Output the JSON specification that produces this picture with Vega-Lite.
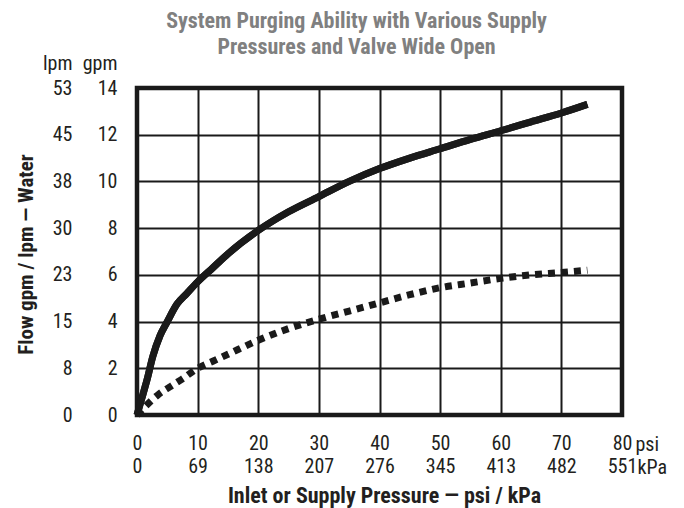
{
  "$schema": "https://vega.github.io/schema/vega-lite/v6.json",
  "autosize": "none",
  "width": 485,
  "height": 327,
  "padding": {"left": 137, "top": 88, "right": 62, "bottom": 93},
  "config": {
    "font": "Liberation Sans Narrow, Roboto Condensed, Liberation Sans, sans-serif",
    "view": {"stroke": "#1a1a1a", "strokeWidth": 4.5},
    "axis": {
      "labelFontSize": 20,
      "labelColor": "#231f20",
      "titleColor": "#231f20",
      "titleFontSize": 20,
      "gridColor": "#1a1a1a",
      "gridWidth": 2,
      "gridOpacity": 1,
      "domain": false,
      "ticks": false
    }
  },
  "title": {
    "text": ["System Purging Ability with Various Supply", "Pressures and Valve Wide Open"],
    "color": "#808080",
    "fontSize": 22,
    "fontWeight": "bold",
    "lineHeight": 26,
    "anchor": "middle",
    "dx": -23,
    "dy": 10,
    "offset": 4
  },
  "data": {
    "values": [
      {"psi": 0, "gpm": 0, "curve": "solid"},
      {"psi": 1, "gpm": 0.9, "curve": "solid"},
      {"psi": 1.65, "gpm": 1.5, "curve": "solid"},
      {"psi": 2.6, "gpm": 2.5, "curve": "solid"},
      {"psi": 3.8, "gpm": 3.4, "curve": "solid"},
      {"psi": 5, "gpm": 4.0, "curve": "solid"},
      {"psi": 6.6, "gpm": 4.75, "curve": "solid"},
      {"psi": 8.2, "gpm": 5.2, "curve": "solid"},
      {"psi": 10, "gpm": 5.7, "curve": "solid"},
      {"psi": 12.5, "gpm": 6.3, "curve": "solid"},
      {"psi": 15, "gpm": 6.9, "curve": "solid"},
      {"psi": 20, "gpm": 7.9, "curve": "solid"},
      {"psi": 25, "gpm": 8.7, "curve": "solid"},
      {"psi": 30, "gpm": 9.35, "curve": "solid"},
      {"psi": 35, "gpm": 10.0, "curve": "solid"},
      {"psi": 40, "gpm": 10.55, "curve": "solid"},
      {"psi": 45, "gpm": 11.0, "curve": "solid"},
      {"psi": 50, "gpm": 11.4, "curve": "solid"},
      {"psi": 55, "gpm": 11.8, "curve": "solid"},
      {"psi": 60, "gpm": 12.17, "curve": "solid"},
      {"psi": 65, "gpm": 12.55, "curve": "solid"},
      {"psi": 70, "gpm": 12.93, "curve": "solid"},
      {"psi": 74.3, "gpm": 13.3, "curve": "solid"},
      {"psi": 0, "gpm": 0, "curve": "dotted"},
      {"psi": 1.3, "gpm": 0.35, "curve": "dotted"},
      {"psi": 3.4, "gpm": 0.85, "curve": "dotted"},
      {"psi": 5.7, "gpm": 1.25, "curve": "dotted"},
      {"psi": 7.5, "gpm": 1.55, "curve": "dotted"},
      {"psi": 10, "gpm": 2.0, "curve": "dotted"},
      {"psi": 12.5, "gpm": 2.3, "curve": "dotted"},
      {"psi": 15, "gpm": 2.6, "curve": "dotted"},
      {"psi": 20, "gpm": 3.2, "curve": "dotted"},
      {"psi": 25, "gpm": 3.7, "curve": "dotted"},
      {"psi": 30, "gpm": 4.1, "curve": "dotted"},
      {"psi": 35, "gpm": 4.45, "curve": "dotted"},
      {"psi": 40, "gpm": 4.8, "curve": "dotted"},
      {"psi": 45, "gpm": 5.15, "curve": "dotted"},
      {"psi": 50, "gpm": 5.45, "curve": "dotted"},
      {"psi": 55, "gpm": 5.65, "curve": "dotted"},
      {"psi": 60, "gpm": 5.85, "curve": "dotted"},
      {"psi": 65, "gpm": 6.0, "curve": "dotted"},
      {"psi": 70, "gpm": 6.1, "curve": "dotted"},
      {"psi": 74.3, "gpm": 6.2, "curve": "dotted"}
    ]
  },
  "resolve": {"axis": {"x": "independent", "y": "independent"}},
  "layer": [
    {
      "transform": [{"filter": "datum.curve == 'solid'"}],
      "mark": {"type": "line", "color": "#1a1a1a", "strokeWidth": 7, "interpolate": "monotone"},
      "encoding": {
        "x": {
          "field": "psi", "type": "quantitative",
          "scale": {"domain": [0, 80], "nice": false},
          "axis": {
            "orient": "bottom", "labels": false, "grid": false,
            "title": "Inlet or Supply Pressure — psi / kPa",
            "titleFontWeight": "bold", "titleFontSize": 22,
            "titleX": 247, "titleY": 87, "titleAlign": "center", "titleBaseline": "alphabetic", "titleAngle": 0
          }
        },
        "y": {
          "field": "gpm", "type": "quantitative",
          "scale": {"domain": [0, 14], "nice": false},
          "axis": {
            "orient": "left", "labels": false, "grid": false,
            "title": "Flow gpm / lpm — Water",
            "titleFontWeight": "bold", "titleFontSize": 21,
            "titleX": -105, "titleY": 166, "titleAngle": -90, "titleAlign": "center", "titleBaseline": "alphabetic"
          }
        }
      }
    },
    {
      "transform": [{"filter": "datum.curve == 'solid'"}],
      "mark": {"type": "line", "color": "#1a1a1a", "strokeWidth": 7, "interpolate": "monotone"},
      "encoding": {
        "x": {
          "field": "psi", "type": "quantitative",
          "axis": {
            "orient": "bottom", "values": [0, 10, 20, 30, 40, 50, 60, 70, 80],
            "grid": true, "labelPadding": 18, "labelFlush": false, "labelOverlap": false,
            "title": "psi", "titleFontWeight": "normal", "titleX": 498, "titleY": 35,
            "titleAlign": "left", "titleBaseline": "alphabetic", "titleAngle": 0
          }
        },
        "y": {
          "field": "gpm", "type": "quantitative",
          "axis": {
            "orient": "left", "values": [0, 2, 4, 6, 8, 10, 12, 14],
            "grid": true, "labelPadding": 20, "labelFlush": false, "labelOverlap": false,
            "title": "gpm", "titleFontWeight": "normal", "titleX": -20, "titleY": -19,
            "titleAlign": "right", "titleBaseline": "alphabetic", "titleAngle": 0
          }
        }
      }
    },
    {
      "transform": [{"filter": "datum.curve == 'dotted'"}],
      "mark": {"type": "line", "color": "#1a1a1a", "strokeWidth": 7, "strokeDash": [7, 6], "strokeCap": "butt", "interpolate": "monotone"},
      "encoding": {
        "x": {
          "field": "psi", "type": "quantitative",
          "axis": {
            "orient": "bottom", "values": [0, 10, 20, 30, 40, 50, 60, 70, 80],
            "grid": false, "labelPadding": 41, "labelFlush": false, "labelOverlap": false,
            "labelExpr": "format(round(datum.value * 6.8901), 'd')",
            "title": "kPa", "titleFontWeight": "normal", "titleX": 500, "titleY": 58,
            "titleAlign": "left", "titleBaseline": "alphabetic", "titleAngle": 0
          }
        },
        "y": {
          "field": "gpm", "type": "quantitative",
          "axis": {
            "orient": "left", "values": [0, 2, 4, 6, 8, 10, 12, 14],
            "grid": false, "labelPadding": 65, "labelFlush": false, "labelOverlap": false,
            "labelExpr": "format(round(datum.value * 3.785), 'd')",
            "title": "lpm", "titleFontWeight": "normal", "titleX": -65, "titleY": -19,
            "titleAlign": "right", "titleBaseline": "alphabetic", "titleAngle": 0
          }
        }
      }
    }
  ]
}
